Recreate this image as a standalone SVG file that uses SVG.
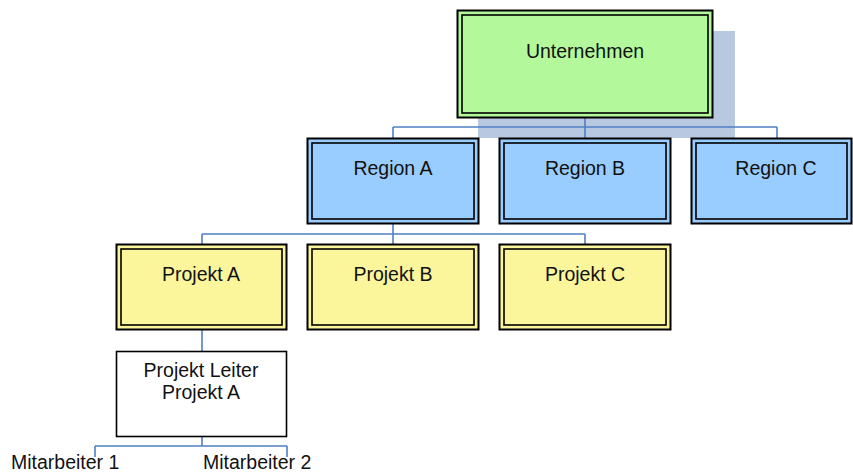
<svg xmlns="http://www.w3.org/2000/svg" width="853" height="473" viewBox="0 0 853 473">
  <style>
    .lbl { font-family: "Liberation Sans", Arial, sans-serif; font-size: 19.5px; fill: #111; }
    .outer { stroke: #000; stroke-width: 2; }
    .inner { fill: none; stroke: #000; stroke-width: 1.6; }
    .green { fill: #b3f99c; }
    .blue { fill: #99ccff; }
    .yellow { fill: #fbf69c; }
    .conn { fill: none; stroke: #4f7fc4; stroke-width: 1.6; }
  </style>

  <!-- drop shadow behind the top box -->
  <rect x="478" y="31" width="257" height="107" fill="#b8c8e1"/>

  <g id="connectors">
    <path class="conn" d="M585 118 V138 M393 127 H777 M393 127 V138 M777 127 V138"/>
    <path class="conn" d="M393 224 V234 M202 234 H585 M202 234 V244 M393 234 V244 M585 234 V244"/>
    <path class="conn" d="M202 330 V351"/>
    <path class="conn" d="M202 437 V446 M95 446 H287 M95 446 V457 M287 446 V457"/>
  </g>

  <g id="unternehmen">
    <rect class="outer green" x="457.5" y="10.5" width="255" height="107"/>
    <rect class="inner" x="462" y="15" width="246" height="98"/>
    <text class="lbl" x="585" y="58" text-anchor="middle">Unternehmen</text>
  </g>

  <g id="region-a">
    <rect class="outer blue" x="307.5" y="138.5" width="171" height="85"/>
    <rect class="inner" x="312" y="143" width="162" height="76"/>
    <text class="lbl" x="393" y="175" text-anchor="middle">Region A</text>
  </g>
  <g id="region-b">
    <rect class="outer blue" x="499.5" y="138.5" width="171" height="85"/>
    <rect class="inner" x="504" y="143" width="162" height="76"/>
    <text class="lbl" x="585" y="175" text-anchor="middle">Region B</text>
  </g>
  <g id="region-c">
    <rect class="outer blue" x="691.5" y="138.5" width="160" height="85"/>
    <rect class="inner" x="696" y="143" width="151" height="76"/>
    <text class="lbl" x="776" y="175" text-anchor="middle">Region C</text>
  </g>

  <g id="projekt-a">
    <rect class="outer yellow" x="116.5" y="244.5" width="170" height="85"/>
    <rect class="inner" x="121" y="249" width="161" height="76"/>
    <text class="lbl" x="201" y="281" text-anchor="middle">Projekt A</text>
  </g>
  <g id="projekt-b">
    <rect class="outer yellow" x="307.5" y="244.5" width="171" height="85"/>
    <rect class="inner" x="312" y="249" width="162" height="76"/>
    <text class="lbl" x="393" y="281" text-anchor="middle">Projekt B</text>
  </g>
  <g id="projekt-c">
    <rect class="outer yellow" x="499.5" y="244.5" width="171" height="85"/>
    <rect class="inner" x="504" y="249" width="162" height="76"/>
    <text class="lbl" x="585" y="281" text-anchor="middle">Projekt C</text>
  </g>

  <g id="projekt-leiter">
    <rect x="116.5" y="351.5" width="170" height="85" fill="#fff" stroke="#000" stroke-width="1.6"/>
    <text class="lbl" x="201" y="377" text-anchor="middle">Projekt Leiter</text>
    <text class="lbl" x="201" y="399" text-anchor="middle">Projekt A</text>
  </g>

  <g id="mitarbeiter-1">
    <text class="lbl" x="11" y="468.5">Mitarbeiter 1</text>
  </g>
  <g id="mitarbeiter-2">
    <text class="lbl" x="203" y="468.5">Mitarbeiter 2</text>
  </g>
</svg>
